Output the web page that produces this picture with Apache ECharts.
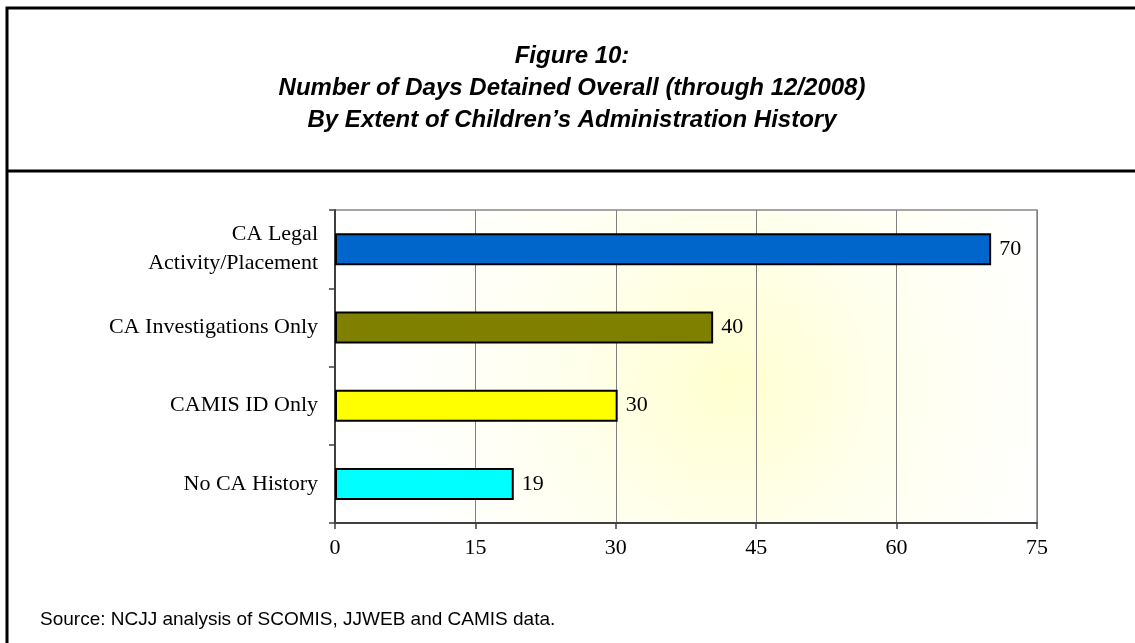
<!DOCTYPE html>
<html>
<head>
<meta charset="utf-8">
<script src="https://cdn.jsdelivr.net/npm/echarts@6/dist/echarts.min.js"></script>
<style>html,body{margin:0;padding:0;background:#fff;}#c{width:1135px;height:643px;}</style>
</head>
<body>
<div id="c"></div>
<script>
const categories = ['CA Legal\nActivity/Placement', 'CA Investigations Only', 'CAMIS ID Only', 'No CA History'];
const values = [70.1, 40.4, 30.2, 19.1];
const barColors = ['#0066cc', '#808000', '#ffff00', '#00ffff'];
const xTicks = [0, 15, 30, 45, 60, 75];
const titleLines = ['Figure 10:', 'Number of Days Detained Overall (through 12/2008)', 'By Extent of Children\u2019s Administration History'];
const sourceText = 'Source: NCJJ analysis of SCOMIS, JJWEB and CAMIS data.';

const chart = echarts.init(document.getElementById('c'), null, {renderer: 'canvas'});
chart.setOption({
  animation: false,
  backgroundColor: '#ffffff',
  title: {
    text: titleLines.join('\n'),
    left: 572, textAlign: 'center', top: 40, padding: 0,
    textStyle: {fontFamily: 'Liberation Sans, Arial, sans-serif', fontSize: 24, fontWeight: 'bold', fontStyle: 'italic', color: '#000', lineHeight: 32}
  },
  graphic: [
    {type: 'rect', shape: {x: 7, y: 8, width: 1200, height: 700}, style: {fill: 'none', stroke: '#000', lineWidth: 3}, silent: true},
    {type: 'line', shape: {x1: 7, y1: 171, x2: 1200, y2: 171}, style: {stroke: '#000', lineWidth: 3}, silent: true},
    {type: 'text', left: 40, top: 610, style: {text: sourceText, font: '19px "Liberation Sans", Arial, sans-serif', fill: '#000'}}
  ],
  grid: {
    left: 335, top: 210, right: 98, bottom: 120,
    show: true, borderColor: '#888', borderWidth: 1.5,
    backgroundColor: {
      type: 'radial', x: 0.56, y: 0.55, r: 1.05,
      colorStops: [{offset: 0, color: '#ffffd0'}, {offset: 0.5, color: '#ffffee'}, {offset: 1, color: '#ffffff'}]
    }
  },
  xAxis: {
    type: 'value', min: xTicks[0], max: xTicks[xTicks.length - 1], interval: xTicks[1] - xTicks[0],
    axisLine: {show: true, lineStyle: {color: '#404040', width: 2}},
    axisTick: {show: true, length: 6, lineStyle: {color: '#404040', width: 1.5}},
    splitLine: {show: true, lineStyle: {color: '#808080', width: 1}},
    axisLabel: {margin: 14, fontFamily: 'Liberation Serif, Times New Roman, serif', fontSize: 22, color: '#000'}
  },
  yAxis: {
    type: 'category', data: categories, inverse: true,
    axisLine: {show: true, lineStyle: {color: '#404040', width: 2}},
    axisTick: {show: true, length: 6, lineStyle: {color: '#404040', width: 1.5}},
    splitLine: {show: false},
    axisLabel: {margin: 17, fontFamily: 'Liberation Serif, Times New Roman, serif', fontSize: 22, color: '#000', align: 'right', lineHeight: 29}
  },
  series: [{
    type: 'bar', barWidth: 32,
    data: values.map((v, i) => ({value: v, itemStyle: {color: barColors[i], borderColor: '#000', borderWidth: 2}})),
    label: {show: true, position: 'right', distance: 8, formatter: p => Math.round(p.value).toString(),
      fontFamily: 'Liberation Serif, Times New Roman, serif', fontSize: 22, color: '#000'}
  }]
});
</script>
</body>
</html>
